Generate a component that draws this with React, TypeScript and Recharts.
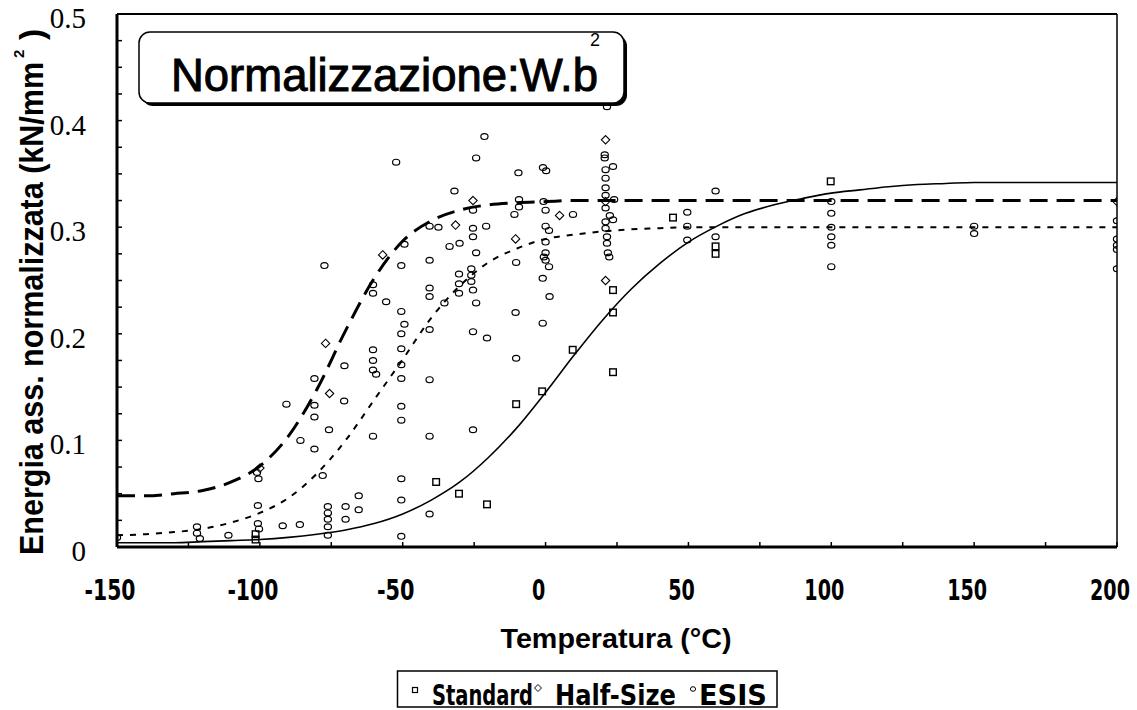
import React from 'react';
import { ComposedChart, Line, Scatter, XAxis, YAxis, ReferenceLine, Legend } from 'recharts';

// temperatures (°C) at which the fitted curves were read
const curveTemps = [-150, -140, -130, -120, -110, -100, -90, -80, -70, -60, -50, -40, -30, -20, -10, 0, 10, 20, 30, 40, 50, 60, 70, 80, 90, 100, 110, 120, 130, 140, 150, 160, 170, 180, 190, 200];
// solid curve (Standard)
const standardFit = [0.004, 0.004, 0.004, 0.005, 0.006, 0.007, 0.009, 0.012, 0.016, 0.022, 0.031, 0.044, 0.061, 0.084, 0.112, 0.145, 0.18, 0.213, 0.242, 0.266, 0.286, 0.301, 0.313, 0.321, 0.327, 0.332, 0.335, 0.338, 0.34, 0.341, 0.342, 0.342, 0.342, 0.342, 0.342, 0.342];
// long-dashed curve (Half-Size)
const halfSizeFit = [0.048, 0.048, 0.05, 0.053, 0.061, 0.076, 0.104, 0.148, 0.203, 0.252, 0.287, 0.306, 0.316, 0.321, 0.323, 0.324, 0.325, 0.325, 0.325, 0.325, 0.325, 0.325, 0.325, 0.325, 0.325, 0.325, 0.325, 0.325, 0.325, 0.325, 0.325, 0.325, 0.325, 0.325, 0.325, 0.325];
// dotted curve (ESIS)
const esisFit = [0.011, 0.012, 0.014, 0.017, 0.023, 0.032, 0.046, 0.069, 0.1, 0.138, 0.176, 0.215, 0.245, 0.267, 0.28, 0.289, 0.293, 0.296, 0.298, 0.299, 0.3, 0.3, 0.3, 0.3, 0.3, 0.3, 0.3, 0.3, 0.3, 0.3, 0.3, 0.3, 0.3, 0.3, 0.3, 0.3];

// measured points [T, E]
const standardPts: [number, number][] = [
  [-101.5, 0.012], [-101.5, 0.007], [-38.3, 0.061], [-30.3, 0.05], [-20.5, 0.04], [-10.3, 0.134], [-1.2, 0.146],
  [9.5, 0.185], [23.6, 0.241], [23.6, 0.22], [23.6, 0.164], [44.6, 0.309], [59.5, 0.282], [59.5, 0.275], [99.8, 0.343],
];
const halfSizePts: [number, number][] = [
  [-100, 0.074], [-77, 0.191], [-75.6, 0.144], [-57, 0.274], [-25.4, 0.325], [-31.5, 0.302], [-10.5, 0.289],
  [4.9, 0.311], [21, 0.382], [21, 0.324], [21, 0.25], [200, 0.324],
];
const esisPts: [number, number][] = [
  [-150, 0.009], [-122, 0.019], [-122, 0.013], [-121, 0.008], [-111, 0.011],
  [-101, 0.07], [-100.5, 0.064], [-100.7, 0.039], [-100.7, 0.022], [-100.3, 0.017],
  [-92, 0.02], [-86, 0.021], [-90.7, 0.134], [-85.8, 0.1],
  [-80.9, 0.158], [-80.9, 0.133], [-80.9, 0.122], [-80.9, 0.092],
  [-77.4, 0.264], [-78, 0.067],
  [-76.2, 0.038], [-76.2, 0.032], [-76.2, 0.026], [-76.2, 0.019], [-76.2, 0.011], [-75.8, 0.11],
  [-70.4, 0.17], [-70.5, 0.137], [-70, 0.038], [-70, 0.026], [-65.4, 0.048], [-65.4, 0.035],
  [-60.4, 0.246], [-60.4, 0.238], [-60.4, 0.185], [-60.4, 0.175], [-60.4, 0.166], [-59.3, 0.162], [-60.4, 0.104],
  [-55.8, 0.23], [-52.3, 0.361],
  [-49.4, 0.284], [-50.5, 0.264], [-50.5, 0.221], [-49.4, 0.209], [-50.5, 0.2], [-50.5, 0.186], [-50.5, 0.171],
  [-50.5, 0.158], [-50.5, 0.132], [-50.5, 0.119], [-50.5, 0.064], [-50.5, 0.044], [-50.5, 0.01],
  [-40.6, 0.301], [-37.5, 0.3], [-40.6, 0.269], [-40.6, 0.243], [-40.6, 0.235], [-40.6, 0.204], [-40.6, 0.157],
  [-40.6, 0.104], [-40.6, 0.031], [-35.4, 0.229], [-33.6, 0.282], [-31.9, 0.334], [-30.1, 0.285],
  [-30.3, 0.256], [-30.3, 0.247], [-30.3, 0.238],
  [-26, 0.261], [-26, 0.255], [-26, 0.249], [-25.4, 0.241], [-24.3, 0.229], [-25.4, 0.316], [-25.4, 0.299],
  [-25.4, 0.291], [-25.4, 0.202], [-25.4, 0.11], [-24.3, 0.365], [-24.3, 0.276],
  [-21.4, 0.385], [-20.8, 0.301], [-20.5, 0.196],
  [-10.3, 0.267], [-10.5, 0.22], [-10.3, 0.177], [-9.5, 0.351], [-9.3, 0.326], [-9.3, 0.319], [-10.9, 0.312],
  [-0.9, 0.356], [0.2, 0.353], [-0.7, 0.324], [0, 0.316], [0, 0.301], [1.2, 0.297], [0, 0.286], [0, 0.276],
  [-0.6, 0.272], [0, 0.269], [1.2, 0.263], [-1, 0.252], [1.4, 0.235], [-1, 0.21], [9.6, 0.312],
  [21.5, 0.413], [20.7, 0.368], [20.7, 0.365], [23.6, 0.357], [21, 0.354], [21, 0.346], [21, 0.337], [21, 0.33],
  [24, 0.326], [21, 0.318], [22.5, 0.311], [21, 0.305], [23.6, 0.307], [21, 0.299], [21.5, 0.291], [21.5, 0.285],
  [21.8, 0.276], [22.3, 0.272],
  [49.6, 0.314], [49.6, 0.301], [49.6, 0.288], [59.5, 0.334], [59.5, 0.291],
  [100, 0.324], [100, 0.313], [100, 0.3], [100, 0.291], [100, 0.283], [100, 0.263],
  [150, 0.301], [150, 0.294],
  [200, 0.306], [200, 0.289], [200, 0.283], [200, 0.279], [200, 0.261],
];

const xTicks = [-150, -125, -100, -75, -50, -25, 0, 25, 50, 75, 100, 125, 150, 175, 200];
const yTicks = [0, 0.025, 0.05, 0.075, 0.1, 0.125, 0.15, 0.175, 0.2, 0.225, 0.25, 0.275, 0.3, 0.325, 0.35, 0.375, 0.4, 0.425, 0.45, 0.475, 0.5];

const chartTitle = 'Normalizzazione:W.b';
const yTitle = 'Energia ass. normalizzata (kN/mm';
const xTitle = 'Temperatura (°C)';
const legendNames = ['Standard', 'Half-Size', 'ESIS'];

const fitRows = (vals: number[]) => curveTemps.map((T, i) => ({ T, E: vals[i] }));
const ptRows = (pts: [number, number][]) => pts.map(([T, E]) => ({ T, E }));

const NARROW = "'Liberation Sans Narrow', 'Arial Narrow', 'DejaVu Sans Condensed', 'Liberation Sans', sans-serif";
const SANS = "'Liberation Sans', Arial, 'DejaVu Sans', sans-serif";
const SERIF = "'Liberation Serif', 'DejaVu Serif', serif";

// labels only; the tick marks are Recharts' own tick lines (pointing inward)
const XTick = (props: any) => {
  const { x, y, payload } = props;
  const v = payload.value as number;
  if (v % 50 !== 0) return <g />;
  const label = String(v);
  const digits = label.replace('-', '').length;
  const len = digits * 13.3 + (v < 0 ? 11 : 0);
  return (
    <text x={x - 7} y={y + 53} textAnchor="middle" fontFamily={NARROW} fontWeight="bold" fontSize={28}
      textLength={len} lengthAdjust="spacingAndGlyphs" fill="#000">{label}</text>
  );
};

const YTick = (props: any) => {
  const { x, y, payload } = props;
  const v = payload.value as number;
  const major = Math.abs(v * 10 - Math.round(v * 10)) < 1e-6;
  if (!major) return <g />;
  const label = v === 0 ? '0' : v.toFixed(1);
  return (
    <text x={x - 31} y={y + 14} textAnchor="end" fontFamily={SERIF} fontSize={29} fill="#000">{label}</text>
  );
};

const EsisShape = (p: any) => (
  <ellipse cx={p.cx} cy={p.cy} rx={3.6} ry={2.9} fill="none" stroke="#000" strokeWidth={1.2} />
);
const SquareShape = (p: any) => (
  <rect x={p.cx - 3.3} y={p.cy - 3.3} width={6.6} height={6.6} fill="none" stroke="#000" strokeWidth={1.4} />
);
const DiamondShape = (p: any) => (
  <path d={`M${p.cx},${p.cy - 4.2}L${p.cx + 4.2},${p.cy}L${p.cx},${p.cy + 4.2}L${p.cx - 4.2},${p.cy}Z`} fill="none" stroke="#000" strokeWidth={1.1} />
);

const LegendBox = () => (
  <svg width={384} height={40} style={{ display: 'block', overflow: 'visible' }}>
    <rect x={1.5} y={1} width={379.5} height={36} fill="#fff" stroke="#000" strokeWidth={1.5} />
    <rect x={16.5} y={17.5} width={5} height={5} fill="none" stroke="#000" strokeWidth={1.2} />
    <text x={36} y={35} fontFamily={NARROW} fontWeight="bold" fontSize={28} textLength={101} lengthAdjust="spacingAndGlyphs">{legendNames[0]}</text>
    <path d="M142,14.5L145.5,18L142,21.5L138.5,18Z" fill="none" stroke="#000" strokeWidth={1} />
    <text x={159} y={35} fontFamily={NARROW} fontWeight="bold" fontSize={28} textLength={121} lengthAdjust="spacingAndGlyphs">{legendNames[1]}</text>
    <ellipse cx={297} cy={19} rx={2.6} ry={2.3} fill="none" stroke="#000" strokeWidth={1} />
    <text x={303} y={35} fontFamily={NARROW} fontWeight="bold" fontSize={28} textLength={68} lengthAdjust="spacingAndGlyphs">{legendNames[2]}</text>
  </svg>
);

export default function App() {
  return (
    <div style={{ position: 'absolute', left: 0, top: 0, width: 1137, height: 710, background: '#fff' }}>
      <ComposedChart width={1137} height={710} margin={{ top: 14, right: 20, bottom: 103, left: 57 }}>
        <XAxis type="number" dataKey="T" domain={[-150, 200]} ticks={xTicks} allowDataOverflow
          height={60} tickSize={-5} tickMargin={5} interval={0}
          tickLine={{ stroke: '#000', strokeWidth: 1.5 }}
          axisLine={{ stroke: '#000', strokeWidth: 3 }} tick={<XTick />} />
        <YAxis type="number" dataKey="E" domain={[0, 0.5]} ticks={yTicks} allowDataOverflow
          width={60} tickSize={-5} tickMargin={5} interval={0}
          tickLine={{ stroke: '#000', strokeWidth: 1.5 }}
          axisLine={{ stroke: '#000', strokeWidth: 3 }} tick={<YTick />} />
        <ReferenceLine y={0.5} stroke="#000" strokeWidth={2} />
        <ReferenceLine x={200} stroke="#000" strokeWidth={1.5} />
        <ReferenceLine segment={[{ x: 25, y: 0 }, { x: 200, y: 0 }]} stroke="#fff" strokeWidth={1} />
        <Line data={fitRows(standardFit)} dataKey="E" type="monotone" stroke="#000" strokeWidth={1.6}
          dot={false} activeDot={false} isAnimationActive={false} name="Standard fit" legendType="none" />
        <Line data={fitRows(halfSizeFit)} dataKey="E" type="monotone" stroke="#000" strokeWidth={3}
          strokeDasharray="18 9" dot={false} activeDot={false} isAnimationActive={false} name="Half-Size fit" legendType="none" />
        <Line data={fitRows(esisFit)} dataKey="E" type="monotone" stroke="#000" strokeWidth={2}
          strokeDasharray="6 7" dot={false} activeDot={false} isAnimationActive={false} name="ESIS fit" legendType="none" />
        <Scatter data={ptRows(esisPts)} dataKey="E" name="ESIS" shape={EsisShape} isAnimationActive={false} />
        <Scatter data={ptRows(halfSizePts)} dataKey="E" name="Half-Size" shape={DiamondShape} isAnimationActive={false} />
        <Scatter data={ptRows(standardPts)} dataKey="E" name="Standard" shape={SquareShape} isAnimationActive={false} />
        <Legend layout="vertical" align="center" verticalAlign="middle"
          wrapperStyle={{ left: 396, top: 670, width: 384, height: 40 }} content={() => <LegendBox />} />
      </ComposedChart>
      <svg width={1137} height={710} style={{ position: 'absolute', left: 0, top: 0, pointerEvents: 'none' }}>
        <rect x={142} y={35} width={485} height={71} rx={11} fill="#000" />
        <rect x={139} y={32} width={485} height={71} rx={11} fill="#fff" stroke="#000" strokeWidth={1.5} />
        <text x={171} y={91} fontFamily={SANS} fontSize={46} stroke="#000" strokeWidth={1}
          textLength={427} lengthAdjust="spacingAndGlyphs">{chartTitle}</text>
        <text x={590} y={46} fontFamily={SANS} fontSize={18}>2</text>
        <g transform="translate(43,555) rotate(-90)">
          <text x={0} y={0} fontFamily={SANS} fontWeight="bold" fontSize={34}
            textLength={493} lengthAdjust="spacingAndGlyphs">{yTitle}</text>
          <text x={497} y={-19} fontFamily={SANS} fontWeight="bold" fontSize={15}>2</text>
          <text x={515} y={0} fontFamily={SANS} fontWeight="bold" fontSize={34}>)</text>
        </g>
        <text x={616} y={648} textAnchor="middle" fontFamily={SANS} fontWeight="bold" fontSize={28}
          textLength={231} lengthAdjust="spacingAndGlyphs">{xTitle}</text>
      </svg>
    </div>
  );
}
